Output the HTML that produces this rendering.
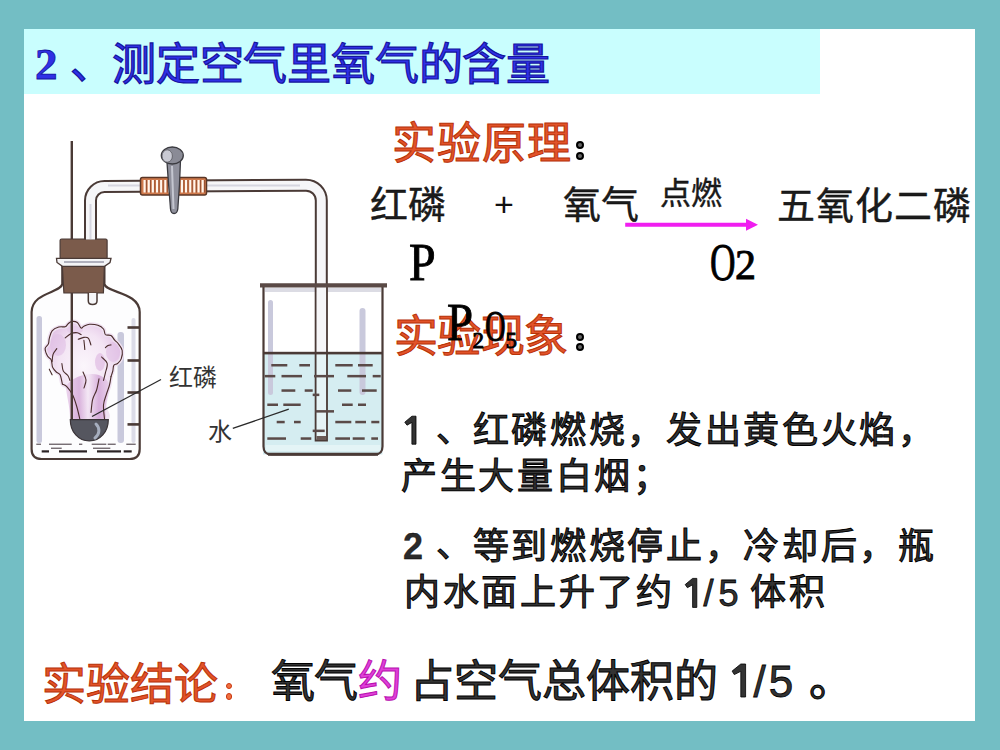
<!DOCTYPE html>
<html lang="zh-CN">
<head>
<meta charset="utf-8">
<style>
html,body{margin:0;padding:0;}
body{width:1000px;height:750px;background:#73bec4;position:relative;overflow:hidden;font-family:"Liberation Sans",sans-serif;}
#slide{position:absolute;left:24px;top:29px;width:951px;height:692px;background:#fff;}
#band{position:absolute;left:24px;top:29px;width:795.5px;height:64.6px;background:#c9fefe;}
.t{position:absolute;white-space:nowrap;line-height:1;}
.title{color:#3030e6;-webkit-text-stroke:1.2px #14149e;font-size:44px;}
.red{color:#e2532a;-webkit-text-stroke:1px #b83208;font-size:44px;}
.blk{color:#1c1c1c;-webkit-text-stroke:0.35px #000;}
.hei{color:#333;-webkit-text-stroke:1px #000;}
.num{font-weight:normal;-webkit-text-stroke:0.8px #000;color:#333;}
.ser{font-family:"Liberation Serif",serif;color:#000;-webkit-text-stroke:0.9px #000;}
.dot{position:absolute;width:4px;height:4px;border-radius:50%;border:2px solid #000;background:#666;}
.rdot{position:absolute;width:4.4px;height:4.4px;border-radius:50%;border:1.6px solid #c8360e;background:#f07040;}
svg{position:absolute;left:0;top:0;}
</style>
</head>
<body>
<div id="slide"></div>
<div id="band"></div>

<!-- title -->
<div class="t title ser" id="m_t2" style="left:35px;top:41.5px;font-size:45px;color:#3030e6;font-weight:bold;-webkit-text-stroke:0.8px #14149e">2</div>
<div class="t title" id="m_tdun" style="left:70px;top:42px;">、</div>
<div class="t title" id="m_tt" style="left:112px;top:43px;letter-spacing:-0.2px">测定空气里氧气的含量</div>

<svg width="1000" height="750" viewBox="0 0 1000 750" id="app">
<path d="M62.3,266 V284 C61,293 32,292 31.6,312 V449 Q31.6,459 41.6,459 H129.7 Q139.7,459 139.7,449 V312 C139.5,292 106,293 104.4,284 V266" fill="#fdfdfe" stroke="#4a3a36" stroke-width="2.2"/>
<rect x="36.5" y="316" width="5.5" height="127" rx="2.5" fill="#c9c9dc"/>
<rect x="117.5" y="332" width="6.5" height="111" rx="3" fill="#c9c9dc"/>
<rect x="131.5" y="318" width="4" height="125" rx="2" fill="#dcdce8"/>
<rect x="127.5" y="326.2" width="11.5" height="2.6" fill="#4a3a36"/>
<rect x="127.5" y="359.2" width="11.5" height="2.6" fill="#4a3a36"/>
<rect x="127.5" y="391.2" width="11.5" height="2.6" fill="#4a3a36"/>
<rect x="127.5" y="423.09999999999997" width="11.5" height="2.6" fill="#4a3a36"/>
<rect x="36.3" y="443.6" width="4.7" height="1.3" fill="#6a6066"/>
<rect x="49" y="443.6" width="22.7" height="1.3" fill="#6a6066"/>
<rect x="79" y="443.6" width="3.3" height="1.3" fill="#6a6066"/>
<rect x="91.7" y="443.6" width="14.6" height="1.3" fill="#6a6066"/>
<rect x="107.7" y="443.6" width="8.0" height="1.3" fill="#6a6066"/>
<rect x="126.3" y="443.6" width="9.4" height="1.3" fill="#6a6066"/>
<rect x="51" y="447.6" width="10.7" height="1.3" fill="#6a6066"/>
<rect x="93" y="447.6" width="17.3" height="1.3" fill="#6a6066"/>
<rect x="41.7" y="450.3" width="7.3" height="2.2" fill="#2a2224"/>
<rect x="59" y="450.3" width="28.0" height="2.2" fill="#2a2224"/>
<rect x="97" y="450.3" width="24.0" height="2.2" fill="#2a2224"/>
<rect x="123.7" y="450.3" width="8.0" height="2.2" fill="#2a2224"/>
<defs><radialGradient id="cg" cx="0.5" cy="0.45" r="0.6"><stop offset="0" stop-color="#fbf6fb"/><stop offset="0.55" stop-color="#f3e4f4"/><stop offset="1" stop-color="#dcb6e0"/></radialGradient><linearGradient id="colg" x1="0" y1="0" x2="1" y2="0"><stop offset="0" stop-color="#e8cdea"/><stop offset="0.3" stop-color="#d6acd9"/><stop offset="0.5" stop-color="#f4e8f5"/><stop offset="0.75" stop-color="#d4a8d8"/><stop offset="1" stop-color="#ead2ec"/></linearGradient></defs>
<path d="M62.4,384.1 C61.2,382.1 61.1,376.8 60.1,374.8 C59.1,372.8 57.5,373.2 56.3,372.0 C55.0,370.8 53.5,369.3 52.6,367.3 C51.8,365.3 52.1,361.7 51.2,359.8 C50.4,357.9 48.5,358.0 47.5,356.1 C46.5,354.2 45.0,350.6 45.1,348.6 C45.2,346.6 47.7,345.6 48.4,343.9 C49.1,342.2 48.7,340.5 49.3,338.3 C49.9,336.1 50.5,332.8 52.1,330.9 C53.7,329.0 56.5,327.8 58.7,327.1 C60.9,326.4 63.7,327.2 65.2,326.7 C66.8,326.2 66.9,324.8 68.0,323.9 C69.1,323.0 70.2,321.7 71.7,321.5 C73.2,321.3 75.7,321.4 77.3,322.5 C78.9,323.6 80.0,327.5 81.1,328.1 C82.2,328.7 82.5,326.8 83.9,326.2 C85.3,325.6 87.2,324.4 89.5,324.3 C91.8,324.2 95.6,324.5 97.9,325.3 C100.2,326.1 102.2,327.4 103.5,329.0 C104.8,330.6 104.2,333.5 105.4,334.6 C106.7,335.7 109.5,334.6 111.0,335.5 C112.5,336.4 113.5,338.8 114.7,340.2 C115.9,341.6 117.2,342.2 118.4,343.9 C119.7,345.6 121.7,348.0 122.2,350.5 C122.7,353.0 122.0,356.7 121.2,358.9 C120.4,361.1 118.7,362.4 117.5,363.5 C116.3,364.6 114.6,364.1 113.8,365.4 C113.0,366.6 113.3,369.1 112.8,371.0 C112.3,372.9 111.5,374.3 111.0,376.6 C110.5,378.9 110.2,381.9 109.5,385.0 C108.8,388.1 107.3,391.5 106.5,395.0 C105.7,398.5 104.6,402.0 104.5,406.0 C104.4,410.0 111.1,416.8 106.0,419.0 C100.9,421.2 78.9,421.2 74.0,419.0 C69.1,416.8 76.8,410.0 76.6,406.0 C76.4,402.0 74.2,398.0 72.6,394.8 C71.0,391.6 68.7,388.6 67.0,386.8 C65.3,385.0 63.5,386.1 62.4,384.1 Z" fill="url(#cg)" stroke="#f0e2f2" stroke-width="4" stroke-linejoin="round"/>
<path d="M70,419 C70,405 66,395 66,386 C72,378 82,374 92,374 C102,374 108,380 110,386 C108,396 104,406 106,419 Z" fill="url(#colg)" opacity="0.85"/>
<ellipse cx="58" cy="345" rx="8" ry="11" fill="#e0bee4" opacity="0.6"/>
<ellipse cx="113" cy="352" rx="7" ry="10" fill="#e0bee4" opacity="0.6"/>
<ellipse cx="75" cy="330" rx="8" ry="4" fill="#e6cbe9" opacity="0.7"/>
<ellipse cx="100" cy="362" rx="5" ry="9" fill="#dcb4e0" opacity="0.6"/>
<path d="M62.4,384.1 C62.0,382.6 61.1,376.8 60.1,374.8 C59.1,372.8 57.5,373.2 56.3,372.0 C55.0,370.8 53.5,369.3 52.6,367.3 C51.8,365.3 52.1,361.7 51.2,359.8 C50.4,357.9 48.5,358.0 47.5,356.1 C46.5,354.2 45.0,350.6 45.1,348.6 C45.2,346.6 47.7,345.6 48.4,343.9 C49.1,342.2 48.7,340.5 49.3,338.3 C49.9,336.1 50.5,332.8 52.1,330.9 C53.7,329.0 56.5,327.8 58.7,327.1 C60.9,326.4 63.7,327.2 65.2,326.7 C66.8,326.2 66.9,324.8 68.0,323.9 C69.1,323.0 70.2,321.7 71.7,321.5 C73.2,321.3 75.7,321.4 77.3,322.5 C78.9,323.6 80.0,327.5 81.1,328.1 C82.2,328.7 82.5,326.8 83.9,326.2 C85.3,325.6 87.2,324.4 89.5,324.3 C91.8,324.2 95.6,324.5 97.9,325.3 C100.2,326.1 102.2,327.4 103.5,329.0 C104.8,330.6 104.2,333.5 105.4,334.6 C106.7,335.7 109.5,334.6 111.0,335.5 C112.5,336.4 113.5,338.8 114.7,340.2 C115.9,341.6 117.2,342.2 118.4,343.9 C119.7,345.6 121.7,348.0 122.2,350.5 C122.7,353.0 122.0,356.7 121.2,358.9 C120.4,361.1 118.7,362.4 117.5,363.5 C116.3,364.6 114.6,364.1 113.8,365.4 C113.0,366.6 113.3,369.1 112.8,371.0 C112.3,372.9 111.3,375.7 111.0,376.6" fill="none" stroke="#4a2c2c" stroke-width="1.1" stroke-linecap="round"/>
<path d="M105.4,347.7 C105.8,347.3 107.1,346.0 108.0,345.5 C108.9,345.0 110.5,345.0 111.0,344.9" fill="none" stroke="#4a2c2c" stroke-width="1.1" stroke-linecap="round"/>
<path d="M65.2,337.9 C66.1,337.2 68.8,334.6 70.8,333.7 C72.8,332.8 75.6,332.5 77.3,332.7 C79.0,332.9 80.5,334.3 81.1,334.6" fill="none" stroke="#4a2c2c" stroke-width="1.1" stroke-linecap="round"/>
<path d="M78.3,339.3 C79.2,339.0 82.2,337.6 83.9,337.4 C85.6,337.2 87.3,337.1 88.5,338.3 C89.7,339.6 90.5,343.8 90.9,344.9" fill="none" stroke="#4a2c2c" stroke-width="1.1" stroke-linecap="round"/>
<path d="M83.9,340.2 C84.1,341.8 84.7,347.9 84.8,349.5" fill="none" stroke="#4a2c2c" stroke-width="1.1" stroke-linecap="round"/>
<path d="M101.6,357.0 C102.5,358.1 106.6,360.9 107.2,363.5 C107.8,366.1 106.0,370.1 105.4,372.9 C104.8,375.7 103.8,379.1 103.5,380.4" fill="none" stroke="#4a2c2c" stroke-width="1.1" stroke-linecap="round"/>
<path d="M56.8,348.6 C56.2,349.5 53.9,352.0 53.1,354.2 C52.3,356.4 52.3,360.4 52.1,361.7" fill="none" stroke="#4a2c2c" stroke-width="1.1" stroke-linecap="round"/>
<path d="M61.9,363.5 C62.1,364.8 62.3,369.0 63.3,371.0 C64.3,373.0 66.9,374.1 68.0,375.7 C69.1,377.3 69.6,379.6 69.9,380.4" fill="none" stroke="#4a2c2c" stroke-width="1.1" stroke-linecap="round"/>
<path d="M49.3,369.2 C49.8,370.1 51.6,373.9 52.1,374.8" fill="none" stroke="#4a2c2c" stroke-width="1.1" stroke-linecap="round"/>
<path d="M62.4,384.1 C63.2,384.6 65.3,385.0 67.0,386.8 C68.7,388.6 71.0,391.6 72.6,394.8 C74.2,398.0 75.4,402.0 76.6,406.0 C77.8,410.0 79.3,416.7 79.8,418.8" fill="none" stroke="#4a2c2c" stroke-width="1.1" stroke-linecap="round"/>
<path d="M111.0,376.6 C110.8,378.0 110.2,382.1 109.5,385.0 C108.8,387.9 107.5,390.7 106.5,394.0 C105.5,397.3 103.8,400.9 103.5,405.0 C103.2,409.1 104.3,416.5 104.5,418.8" fill="none" stroke="#4a2c2c" stroke-width="1.1" stroke-linecap="round"/>
<path d="M99.0,378.8 C98.6,380.7 97.7,386.5 96.6,390.0 C95.5,393.5 93.5,395.9 92.6,399.6 C91.7,403.3 91.3,410.3 91.0,412.4" fill="none" stroke="#4a2c2c" stroke-width="1.1" stroke-linecap="round"/>
<path d="M83.0,372.0 C83.5,373.3 85.8,377.3 86.0,380.0 C86.2,382.7 84.3,386.7 84.0,388.0" fill="none" stroke="#4a2c2c" stroke-width="1.1" stroke-linecap="round"/>
<line x1="71.8" y1="141" x2="71.8" y2="421" stroke="#4a3a36" stroke-width="2.4"/>
<path d="M70.3,419.7 H108.3 C108.3,432 100,441 89.3,441 C78.6,441 70.3,432 70.3,419.7 Z" fill="#55565f" stroke="#3a3438" stroke-width="1.2"/>
<path d="M96,424 C100,428 100,434 95,438" fill="none" stroke="#a6aebe" stroke-width="3" stroke-linecap="round"/>
<path d="M62.3,266 H104.4 L103.4,293 H63.9 Z" fill="#7b5b4b" stroke="#4a3a36" stroke-width="1.2"/>
<rect x="60.1" y="239" width="47" height="20" rx="1.5" fill="#7b5b4b" stroke="#4a3a36" stroke-width="1.2"/>
<path d="M56.5,258.3 H111 L110,262.5 L104.5,266.3 H62.5 L57,262.5 Z" fill="#f4f4f6" stroke="#4a3a36" stroke-width="1.3"/>
<line x1="64" y1="262" x2="104" y2="262" stroke="#9a9aa8" stroke-width="1.5"/>
<path d="M88.3,293 V301 Q88.3,304.5 92.6,304.5 Q97,304.5 97,301 V293" fill="#f6f6f8" stroke="#4a3a36" stroke-width="1.5"/>
<path d="M90.5,239.5 V200.5 A14,14 0 0 1 104.5,186.5 L306,185.2 A15.3,15.3 0 0 1 321.3,200.5 V284" fill="none" stroke="#4a3a36" stroke-width="13"/>
<path d="M90.5,239.5 V200.5 A14,14 0 0 1 104.5,186.5 L306,185.2 A15.3,15.3 0 0 1 321.3,200.5 V284" fill="none" stroke="#f6f6f8" stroke-width="9"/>
<path d="M90.5,239 V204 M108,185.5 H300" fill="none" stroke="#d6d6e0" stroke-width="2"/>
<rect x="140.5" y="177.5" width="66" height="17.5" rx="2" fill="#d07a4c" stroke="#5a3626" stroke-width="1.5"/>
<rect x="143.5" y="180" width="2.1" height="12.5" fill="#fff6ee"/>
<rect x="146.1" y="180" width="0.8" height="12.5" fill="#8a4a30"/>
<rect x="147.7" y="180" width="2.1" height="12.5" fill="#fff6ee"/>
<rect x="150.2" y="180" width="0.8" height="12.5" fill="#8a4a30"/>
<rect x="151.8" y="180" width="2.1" height="12.5" fill="#fff6ee"/>
<rect x="154.4" y="180" width="0.8" height="12.5" fill="#8a4a30"/>
<rect x="156.0" y="180" width="2.1" height="12.5" fill="#fff6ee"/>
<rect x="158.6" y="180" width="0.8" height="12.5" fill="#8a4a30"/>
<rect x="160.1" y="180" width="2.1" height="12.5" fill="#fff6ee"/>
<rect x="162.7" y="180" width="0.8" height="12.5" fill="#8a4a30"/>
<rect x="164.3" y="180" width="2.1" height="12.5" fill="#fff6ee"/>
<rect x="166.9" y="180" width="0.8" height="12.5" fill="#8a4a30"/>
<rect x="168.4" y="180" width="2.1" height="12.5" fill="#fff6ee"/>
<rect x="171.0" y="180" width="0.8" height="12.5" fill="#8a4a30"/>
<rect x="172.6" y="180" width="2.1" height="12.5" fill="#fff6ee"/>
<rect x="175.2" y="180" width="0.8" height="12.5" fill="#8a4a30"/>
<rect x="176.7" y="180" width="2.1" height="12.5" fill="#fff6ee"/>
<rect x="179.3" y="180" width="0.8" height="12.5" fill="#8a4a30"/>
<rect x="180.9" y="180" width="2.1" height="12.5" fill="#fff6ee"/>
<rect x="183.5" y="180" width="0.8" height="12.5" fill="#8a4a30"/>
<rect x="185.0" y="180" width="2.1" height="12.5" fill="#fff6ee"/>
<rect x="187.6" y="180" width="0.8" height="12.5" fill="#8a4a30"/>
<rect x="189.2" y="180" width="2.1" height="12.5" fill="#fff6ee"/>
<rect x="191.8" y="180" width="0.8" height="12.5" fill="#8a4a30"/>
<rect x="193.3" y="180" width="2.1" height="12.5" fill="#fff6ee"/>
<rect x="195.9" y="180" width="0.8" height="12.5" fill="#8a4a30"/>
<rect x="197.5" y="180" width="2.1" height="12.5" fill="#fff6ee"/>
<rect x="200.1" y="180" width="0.8" height="12.5" fill="#8a4a30"/>
<rect x="201.6" y="180" width="2.1" height="12.5" fill="#fff6ee"/>
<rect x="204.2" y="180" width="0.8" height="12.5" fill="#8a4a30"/>
<path d="M167,162 L180.5,160 C180,178 179,195 177.8,209 C177,215 171,215 170.5,209 C169.5,195 168,178 167,162 Z" fill="#8f909c" stroke="#3a3a40" stroke-width="1.3"/>
<path d="M172,166 C172.5,180 173,196 173.5,209" fill="none" stroke="#c4c6d0" stroke-width="2"/>
<ellipse cx="172.3" cy="155.5" rx="11" ry="8.5" fill="#8a8b96" stroke="#3a3a40" stroke-width="1.3"/>
<ellipse cx="167.2" cy="156" rx="5.2" ry="6.2" fill="#c8c9d3" stroke="#55555c" stroke-width="0.8"/>
<rect x="263" y="353" width="119.5" height="101.5" fill="#d5edf1"/>
<rect x="268" y="300" width="5" height="95" rx="2.5" fill="#c9c9dc"/>
<rect x="359.5" y="308" width="6" height="87" rx="3" fill="#c9c9dc"/>
<rect x="265" y="288" width="116" height="4" fill="#dcdce4"/>
<rect x="316.3" y="284" width="10" height="69" fill="#f6f6f8"/>
<rect x="316.3" y="353" width="10" height="86" fill="#e6f4f6"/>
<path d="M315.6,284 V440.5 H327 V284" fill="none" stroke="#4a3a36" stroke-width="1.8"/>
<rect x="316.5" y="436" width="9.6" height="4" fill="#6a5a56"/>
<path d="M263.5,286 V446.5 Q263.5,454.5 271.5,454.5 H374.5 Q382.5,454.5 382.5,446.5 V286" fill="none" stroke="#4a3a36" stroke-width="2.2"/>
<path d="M260,283.2 H387 V287.6 H260 Z" fill="#5a4a46"/>
<rect x="266" y="445" width="114" height="6" fill="#eef8fa" opacity="0.6"/>
<path d="M268,454.3 H378" stroke="#4a3a36" stroke-width="3"/>
<rect x="263" y="351.8" width="119.5" height="2.6" fill="#4a3a36"/>
<rect x="271.3" y="364.0" width="16.0" height="2.5" fill="#5a4a48"/>
<rect x="299.3" y="364.0" width="10.7" height="2.5" fill="#5a4a48"/>
<rect x="335.3" y="364.0" width="17.4" height="2.5" fill="#5a4a48"/>
<rect x="358" y="364.0" width="14.7" height="2.5" fill="#5a4a48"/>
<rect x="264.7" y="374.90000000000003" width="10.6" height="2.5" fill="#5a4a48"/>
<rect x="281.5" y="374.90000000000003" width="20.5" height="2.5" fill="#5a4a48"/>
<rect x="314" y="374.90000000000003" width="20.0" height="2.5" fill="#5a4a48"/>
<rect x="347.3" y="374.90000000000003" width="18.7" height="2.5" fill="#5a4a48"/>
<rect x="372.7" y="374.90000000000003" width="8.0" height="2.5" fill="#5a4a48"/>
<rect x="281.5" y="389.3" width="13.8" height="2.5" fill="#5a4a48"/>
<rect x="304.7" y="389.3" width="8.0" height="2.5" fill="#5a4a48"/>
<rect x="338" y="389.3" width="13.3" height="2.5" fill="#5a4a48"/>
<rect x="362" y="389.3" width="14.7" height="2.5" fill="#5a4a48"/>
<rect x="312.7" y="393.6" width="6.6" height="2.5" fill="#5a4a48"/>
<rect x="267.3" y="403.5" width="10.7" height="2.5" fill="#5a4a48"/>
<rect x="283.3" y="403.5" width="17.4" height="2.5" fill="#5a4a48"/>
<rect x="342" y="403.5" width="10.7" height="2.5" fill="#5a4a48"/>
<rect x="358" y="403.5" width="8.0" height="2.5" fill="#5a4a48"/>
<rect x="315.3" y="410.1" width="18.7" height="2.5" fill="#5a4a48"/>
<rect x="276.7" y="420.8" width="8.0" height="2.5" fill="#5a4a48"/>
<rect x="294" y="420.8" width="6.7" height="2.5" fill="#5a4a48"/>
<rect x="335.3" y="420.8" width="16.0" height="2.5" fill="#5a4a48"/>
<rect x="355.3" y="420.8" width="10.7" height="2.5" fill="#5a4a48"/>
<rect x="371.3" y="420.8" width="8.0" height="2.5" fill="#5a4a48"/>
<rect x="312.7" y="429.6" width="12.0" height="2.5" fill="#5a4a48"/>
<rect x="267.3" y="437.3" width="18.7" height="2.5" fill="#5a4a48"/>
<rect x="300.7" y="437.3" width="10.6" height="2.5" fill="#5a4a48"/>
<rect x="335.3" y="437.3" width="14.7" height="2.5" fill="#5a4a48"/>
<rect x="352.7" y="437.3" width="12.0" height="2.5" fill="#5a4a48"/>
<rect x="371.3" y="437.3" width="6.7" height="2.5" fill="#5a4a48"/>
<line x1="161" y1="379.5" x2="92" y2="416.5" stroke="#2a2a2a" stroke-width="1.3"/>
<line x1="232.8" y1="428.4" x2="288.8" y2="409.2" stroke="#2a2a2a" stroke-width="1.3"/>

</svg>
<svg width="1000" height="750" style="position:absolute;left:0;top:0"><path d="M625.2,222.8 H746 V218.8 L758,224.8 L746,230.8 V226.8 H625.2 Z" fill="#f01ef0"/><path d="M411.9,416.2 L416.0,416.2 L416.0,444.2 L411.9,444.2 L411.9,422.4 L407.0,425.2 L404.8,422.2 Z" fill="#333" stroke="#000" stroke-width="0.8" stroke-linejoin="round"/><path d="M692.6,578.4 L696.8,578.4 L696.8,607.4 L692.6,607.4 L692.6,584.8 L687.4,587.7 L685.2,584.6 Z" fill="#333" stroke="#000" stroke-width="0.8" stroke-linejoin="round"/><path d="M740.8,664.0 L745.6,664.0 L745.6,697.0 L740.8,697.0 L740.8,671.3 L734.3,674.6 L732.1,671.1 Z" fill="#333" stroke="#000" stroke-width="0.8" stroke-linejoin="round"/></svg>
<div class="t" id="m_lb1" style="left:169px;top:365.5px;font-size:24px;color:#333">红磷</div>
<div class="t" id="m_lb2" style="left:208px;top:420px;font-size:24px;color:#333">水</div>

<!-- principle -->
<div class="t red" id="m_yl" style="left:392px;top:121.5px;letter-spacing:1.1px">实验原理</div>
<div class="dot" style="left:575.8px;top:141px"></div><div class="dot" style="left:575.8px;top:151.5px"></div>
<div class="t blk" id="m_hl" style="left:370px;top:186px;font-size:38px;">红磷</div>
<div class="t blk" id="m_plus" style="left:494px;top:187px;font-size:34px;-webkit-text-stroke:0;color:#111">+</div>
<div class="t blk" id="m_yq" style="left:562.5px;top:186px;font-size:38px;">氧气</div>
<div class="t blk" id="m_dr" style="left:660px;top:178px;font-size:31px;">点燃</div>
<div class="t blk" id="m_wy" style="left:776.5px;top:186.5px;font-size:38px;letter-spacing:1px">五氧化二磷</div>
<div class="t ser" id="m_P" style="left:409px;top:237px;font-size:52px;transform:scaleX(0.92);transform-origin:0 0">P</div>
<div class="t ser" id="m_O" style="left:709.5px;top:236.5px;font-size:52px;transform:scaleX(0.68);transform-origin:0 0">O</div>
<div class="t ser" id="m_O2" style="left:735px;top:244px;font-size:42px;">2</div>

<!-- phenomenon -->
<div class="t red" id="m_xx" style="left:393.5px;top:314.5px;letter-spacing:-0.4px">实验现象</div>
<div class="dot" style="left:575.8px;top:332.7px"></div><div class="dot" style="left:575.8px;top:343px"></div>
<div class="t ser" id="m_P2" style="left:447px;top:297px;font-size:52px;transform:scaleX(0.9);transform-origin:0 0">P</div>
<div class="t ser" id="m_s2" style="left:472.5px;top:329px;font-size:23px;">2</div>
<div class="t ser" id="m_O5" style="left:484.5px;top:305px;font-size:44px;transform:scaleX(0.65);transform-origin:0 0">O</div>
<div class="t ser" id="m_s5" style="left:505.5px;top:329px;font-size:23px;">5</div>

<div class="t hei" id="m_r1b" style="left:436px;top:412px;font-size:36px;">、</div>
<div class="t hei" id="m_r1c" style="left:472.5px;top:413px;font-size:36px;letter-spacing:2.7px">红磷燃烧，发出黄色火焰，</div>
<div class="t hei" id="m_r2" style="left:401px;top:459px;font-size:36px;letter-spacing:2.7px">产生大量白烟；</div>
<div class="t hei num" id="m_r3a" style="left:403px;top:529px;font-size:36px;font-weight:bold;-webkit-text-stroke:0.3px #000;color:#2a2a2a">2</div>
<div class="t hei" id="m_r3b" style="left:436px;top:527px;font-size:36px;">、</div>
<div class="t hei" id="m_r3c" style="left:472.5px;top:529px;font-size:36px;letter-spacing:2.7px">等到燃烧停止，冷却后，瓶</div>
<div class="t hei" id="m_r4a" style="left:404px;top:575px;font-size:36px;letter-spacing:2.7px">内水面上升了约</div>
<div class="t hei num" id="m_r4b" style="left:703.5px;top:575.5px;font-size:36px;letter-spacing:5px">/5</div>
<div class="t hei" id="m_r4c" style="left:750px;top:575px;font-size:36px;letter-spacing:2.7px">体积</div>

<!-- conclusion -->
<div class="t red" id="m_jl" style="left:42px;top:663px;">实验结论</div>
<div class="rdot" style="left:226px;top:683px"></div><div class="rdot" style="left:226px;top:693.3px"></div>
<div class="t hei" id="m_c1" style="left:270.5px;top:660px;font-size:44px;letter-spacing:-1px">氧气</div>
<div class="t hei" id="m_c2" style="left:358px;top:660px;font-size:44px;color:#e040d8;-webkit-text-stroke:1px #b810b0">约</div>
<div class="t hei" id="m_c3" style="left:410px;top:660px;font-size:44px;">占空气总体积的</div>
<div class="t hei num" id="m_c4" style="left:753.5px;top:660px;font-size:44px;letter-spacing:3px">/5</div>
<div class="t hei" id="m_c5" style="left:809px;top:659px;font-size:44px;">。</div>

</body>
</html>
